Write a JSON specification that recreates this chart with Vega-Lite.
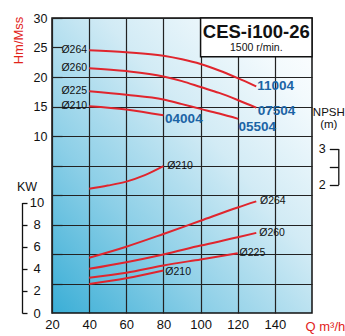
{
  "$schema": "https://vega.github.io/schema/vega-lite/v6.json",
  "width": 260,
  "height": 295,
  "autosize": {"type": "none"},
  "padding": {"left": 52, "top": 18, "right": 33, "bottom": 23},
  "background": "white",
  "view": {
    "fill": {"gradient": "linear", "x1": 0, "y1": 1, "x2": 1, "y2": 0,
      "stops": [
        {"offset": 0, "color": "#3aaed6"},
        {"offset": 0.3, "color": "#8ccfe7"},
        {"offset": 0.6, "color": "#d2ebf5"},
        {"offset": 0.85, "color": "#f3fafd"},
        {"offset": 1, "color": "#ffffff"}
      ]},
    "stroke": "#111",
    "strokeWidth": 1.5
  },
  "config": {
    "font": "Liberation Sans",
    "axis": {"labelColor": "#111", "labelFont": "Liberation Sans", "titleFont": "Liberation Sans"}
  },
  "datasets": {
    "curves": [
      {"axis": "H", "d": "264", "Q": 40, "v": 24.55},
      {"axis": "H", "d": "264", "Q": 60, "v": 24.2},
      {"axis": "H", "d": "264", "Q": 80, "v": 23.6},
      {"axis": "H", "d": "264", "Q": 90, "v": 23.0},
      {"axis": "H", "d": "264", "Q": 100, "v": 22.2},
      {"axis": "H", "d": "264", "Q": 110, "v": 21.1},
      {"axis": "H", "d": "264", "Q": 120, "v": 19.8},
      {"axis": "H", "d": "264", "Q": 130, "v": 18.4},
      {"axis": "H", "d": "260", "Q": 40, "v": 21.5},
      {"axis": "H", "d": "260", "Q": 60, "v": 21.0},
      {"axis": "H", "d": "260", "Q": 80, "v": 20.1},
      {"axis": "H", "d": "260", "Q": 90, "v": 19.3},
      {"axis": "H", "d": "260", "Q": 100, "v": 18.3},
      {"axis": "H", "d": "260", "Q": 110, "v": 17.3},
      {"axis": "H", "d": "260", "Q": 120, "v": 16.1},
      {"axis": "H", "d": "260", "Q": 130, "v": 14.8},
      {"axis": "H", "d": "225", "Q": 40, "v": 17.6},
      {"axis": "H", "d": "225", "Q": 60, "v": 17.0},
      {"axis": "H", "d": "225", "Q": 80, "v": 16.2},
      {"axis": "H", "d": "225", "Q": 90, "v": 15.4},
      {"axis": "H", "d": "225", "Q": 100, "v": 14.6},
      {"axis": "H", "d": "225", "Q": 110, "v": 13.8},
      {"axis": "H", "d": "225", "Q": 120.3, "v": 12.9},
      {"axis": "H", "d": "210", "Q": 40, "v": 15.05},
      {"axis": "H", "d": "210", "Q": 60, "v": 14.5},
      {"axis": "H", "d": "210", "Q": 80, "v": 13.5},
      {"axis": "KW", "d": "264", "Q": 40, "v": 5.0},
      {"axis": "KW", "d": "264", "Q": 60, "v": 6.0},
      {"axis": "KW", "d": "264", "Q": 80, "v": 7.15},
      {"axis": "KW", "d": "264", "Q": 100, "v": 8.35},
      {"axis": "KW", "d": "264", "Q": 120, "v": 9.55},
      {"axis": "KW", "d": "264", "Q": 130, "v": 10.1},
      {"axis": "KW", "d": "260", "Q": 40, "v": 4.0},
      {"axis": "KW", "d": "260", "Q": 60, "v": 4.6},
      {"axis": "KW", "d": "260", "Q": 80, "v": 5.3},
      {"axis": "KW", "d": "260", "Q": 100, "v": 6.1},
      {"axis": "KW", "d": "260", "Q": 120, "v": 6.85},
      {"axis": "KW", "d": "260", "Q": 130, "v": 7.25},
      {"axis": "KW", "d": "225", "Q": 40, "v": 3.2},
      {"axis": "KW", "d": "225", "Q": 60, "v": 3.65},
      {"axis": "KW", "d": "225", "Q": 80, "v": 4.3},
      {"axis": "KW", "d": "225", "Q": 100, "v": 4.85},
      {"axis": "KW", "d": "225", "Q": 120, "v": 5.4},
      {"axis": "KW", "d": "210", "Q": 40, "v": 2.63},
      {"axis": "KW", "d": "210", "Q": 60, "v": 3.15},
      {"axis": "KW", "d": "210", "Q": 80, "v": 3.85},
      {"axis": "NPSH", "d": "210", "Q": 40, "v": 1.88},
      {"axis": "NPSH", "d": "210", "Q": 50, "v": 1.97},
      {"axis": "NPSH", "d": "210", "Q": 60, "v": 2.08},
      {"axis": "NPSH", "d": "210", "Q": 70, "v": 2.26},
      {"axis": "NPSH", "d": "210", "Q": 80, "v": 2.51}
    ],
    "labels": [
      {"axis": "H", "kind": "dia", "text": "Ø264", "Q": 38.9, "v": 24.55},
      {"axis": "H", "kind": "dia", "text": "Ø260", "Q": 38.9, "v": 21.5},
      {"axis": "H", "kind": "dia", "text": "Ø225", "Q": 38.9, "v": 17.6},
      {"axis": "H", "kind": "dia", "text": "Ø210", "Q": 38.9, "v": 15.05},
      {"axis": "H", "kind": "model", "text": "11004", "Q": 130.5, "v": 18.5},
      {"axis": "H", "kind": "model", "text": "07504", "Q": 130.8, "v": 14.3},
      {"axis": "H", "kind": "model", "text": "05504", "Q": 120.4, "v": 11.5},
      {"axis": "H", "kind": "model", "text": "04004", "Q": 80.9, "v": 12.8},
      {"axis": "H", "kind": "title", "text": "CES-i100-26", "Q": 130, "v": 27.65},
      {"axis": "H", "kind": "sub", "text": "1500 r/min.", "Q": 130, "v": 24.95},
      {"axis": "KW", "kind": "end", "text": "Ø264", "Q": 132, "v": 10.1},
      {"axis": "KW", "kind": "end", "text": "Ø260", "Q": 131.6, "v": 7.25},
      {"axis": "KW", "kind": "end", "text": "Ø225", "Q": 121, "v": 5.4},
      {"axis": "KW", "kind": "end", "text": "Ø210", "Q": 81, "v": 3.75},
      {"axis": "NPSH", "kind": "end", "text": "Ø210", "Q": 82, "v": 2.51}
    ],
    "box": [
      {"Q": 100, "Q2": 160, "v": 23.42, "v2": 30}
    ]
  },
  "encoding": {
    "x": {
      "field": "Q", "type": "quantitative",
      "scale": {"domain": [20, 160], "nice": false, "zero": false},
      "axis": {
        "values": [20, 40, 60, 80, 100, 120, 140],
        "grid": true, "gridColor": "#222", "gridWidth": 1.2,
        "ticks": false, "domain": false,
        "labelPadding": 5, "labelFontSize": 13, "labelFlush": false,
        "title": "Q m³/h", "titleColor": "#e2231a", "titleFontSize": 13,
        "titleFontWeight": "normal", "titleX": 253, "titleY": 17,
        "titleAlign": "left", "titleBaseline": "alphabetic"
      }
    }
  },
  "layer": [
    {
      "encoding": {
        "y": {
          "field": "v", "type": "quantitative",
          "scale": {"domain": [-20, 30], "nice": false, "zero": false},
          "axis": {
            "orient": "left",
            "values": [-15, -10, -5, 0, 5, 10, 15, 20, 25, 30],
            "labelExpr": "datum.value >= 10 ? datum.label : ''",
            "tickSize": -10, "labelPadding": 15, "domain": false,
            "grid": true, "gridColor": "#222", "gridWidth": 1.2,
            "gridOpacity": {"condition": {"test": "datum.value == 25", "value": 0}, "value": 1},
            "tickColor": "#222", "tickWidth": 1.2,
            "labelFontSize": 12.5,
            "title": "Hm/Mss", "titleColor": "#e2231a", "titleFontSize": 13,
            "titleFontWeight": "normal", "titleAngle": 270,
            "titleX": -33.5, "titleY": 22, "titleAlign": "center", "titleBaseline": "middle"
          }
        }
      },
      "layer": [
        {
          "data": {"name": "curves"},
          "transform": [{"filter": "datum.axis == 'H'"}],
          "mark": {"type": "line", "color": "#e0252d", "strokeWidth": 2, "interpolate": "monotone"},
          "encoding": {"detail": {"field": "d"}}
        },
        {
          "data": {"name": "box"},
          "mark": {"type": "rect", "fill": "white", "stroke": "#111", "strokeWidth": 1.5},
          "encoding": {"x2": {"field": "Q2"}, "y2": {"field": "v2"}}
        },
        {
          "data": {"name": "labels"},
          "transform": [{"filter": "datum.axis == 'H' && datum.kind == 'dia'"}],
          "mark": {"type": "text", "align": "right", "baseline": "middle", "fontSize": 10.5, "color": "#111"},
          "encoding": {"text": {"field": "text"}}
        },
        {
          "data": {"name": "labels"},
          "transform": [{"filter": "datum.kind == 'model'"}],
          "mark": {"type": "text", "align": "left", "baseline": "middle", "fontSize": 13.5, "fontWeight": "bold", "color": "#1b64a5"},
          "encoding": {"text": {"field": "text"}}
        },
        {
          "data": {"name": "labels"},
          "transform": [{"filter": "datum.kind == 'title'"}],
          "mark": {"type": "text", "align": "center", "baseline": "middle", "fontSize": 18.5, "fontWeight": "bold", "font": "Liberation Sans", "color": "#111"},
          "encoding": {"text": {"field": "text"}}
        },
        {
          "data": {"name": "labels"},
          "transform": [{"filter": "datum.kind == 'sub'"}],
          "mark": {"type": "text", "align": "center", "baseline": "middle", "fontSize": 10.5, "color": "#111"},
          "encoding": {"text": {"field": "text"}}
        }
      ]
    },
    {
      "encoding": {
        "y": {
          "field": "v", "type": "quantitative",
          "scale": {"domain": [0, 10], "range": [295, 184.5], "nice": false, "zero": false},
          "axis": {
            "orient": "right", "offset": -290,
            "values": [0, 2, 4, 6, 8, 10],
            "tickSize": 5, "labelPadding": 9.5, "labelAlign": "center",
            "grid": false, "domain": true, "domainColor": "#111", "domainWidth": 1.3,
            "tickColor": "#111", "tickWidth": 1.3, "labelFontSize": 13,
            "title": "KW", "titleAngle": 0, "titleX": 4.5, "titleY": 168,
            "titleAlign": "center", "titleBaseline": "middle",
            "titleFontWeight": "normal", "titleFontSize": 12.5, "titleColor": "#111"
          }
        }
      },
      "layer": [
        {
          "data": {"name": "curves"},
          "transform": [{"filter": "datum.axis == 'KW'"}],
          "mark": {"type": "line", "color": "#e0252d", "strokeWidth": 2, "interpolate": "monotone"},
          "encoding": {"detail": {"field": "d"}}
        },
        {
          "data": {"name": "labels"},
          "transform": [{"filter": "datum.axis == 'KW'"}],
          "mark": {"type": "text", "align": "left", "baseline": "middle", "fontSize": 10.5, "color": "#111"},
          "encoding": {"text": {"field": "text"}}
        }
      ]
    },
    {
      "encoding": {
        "y": {
          "field": "v", "type": "quantitative",
          "scale": {"domain": [2, 3], "range": [166.5, 130.5], "nice": false, "zero": false},
          "axis": {
            "orient": "left", "offset": -286.3,
            "values": [2, 2.5, 3],
            "labelExpr": "datum.value == 3 ? '3' : datum.value == 2 ? '2' : ''",
            "tickSize": 9, "labelPadding": 4,
            "grid": false, "domain": true, "domainColor": "#111", "domainWidth": 1.3,
            "tickColor": "#111", "tickWidth": 1.3, "labelFontSize": 12.5,
            "title": ["NPSH", "(m)"], "titleAngle": 0, "titleX": -10, "titleY": 94,
            "titleAlign": "center", "titleBaseline": "middle", "titleLineHeight": 12.5,
            "titleFontWeight": "normal", "titleFontSize": 11.5, "titleColor": "#111"
          }
        }
      },
      "layer": [
        {
          "data": {"name": "curves"},
          "transform": [{"filter": "datum.axis == 'NPSH'"}],
          "mark": {"type": "line", "color": "#e0252d", "strokeWidth": 2, "interpolate": "monotone"},
          "encoding": {"detail": {"field": "d"}}
        },
        {
          "data": {"name": "labels"},
          "transform": [{"filter": "datum.axis == 'NPSH'"}],
          "mark": {"type": "text", "align": "left", "baseline": "middle", "fontSize": 10.5, "color": "#111"},
          "encoding": {"text": {"field": "text"}}
        }
      ]
    }
  ],
  "resolve": {"scale": {"y": "independent"}, "axis": {"y": "independent"}}
}
